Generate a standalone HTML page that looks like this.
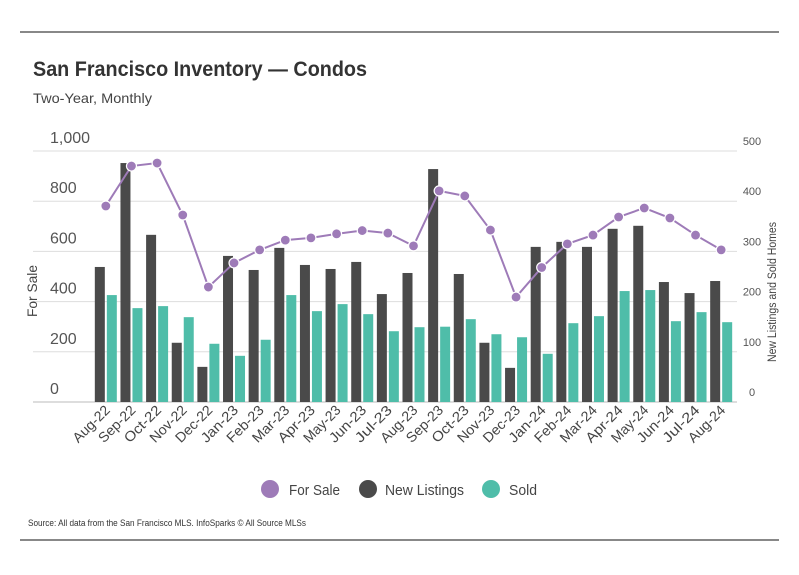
<!DOCTYPE html>
<html><head><meta charset="utf-8"><style>
body{margin:0;background:#fff;}
svg{display:block;font-family:"Liberation Sans",sans-serif;}
</style></head><body>
<svg id="c" width="799" height="575" viewBox="0 0 799 575">
<line x1="20" y1="32" x2="779" y2="32" stroke="#111" stroke-width="1"/>
<line x1="20" y1="540" x2="779" y2="540" stroke="#111" stroke-width="1"/>
<text x="33" y="76" font-size="21" font-weight="bold" fill="#333" textLength="334" lengthAdjust="spacingAndGlyphs">San Francisco Inventory — Condos</text>
<text x="33" y="103" font-size="14" fill="#444" textLength="119" lengthAdjust="spacingAndGlyphs">Two-Year, Monthly</text>
<g id="grid"></g>
<g id="bars"></g>
<g id="line"></g>
<g id="axes"></g>
<text transform="translate(37,291) rotate(-90)" font-size="14" fill="#444" text-anchor="middle" textLength="52" lengthAdjust="spacingAndGlyphs">For Sale</text>
<text transform="translate(776,292) rotate(-90)" font-size="11.5" fill="#444" text-anchor="middle" textLength="140" lengthAdjust="spacingAndGlyphs">New Listings and Sold Homes</text>
<g>
<g><circle cx="270" cy="489" r="9" fill="#9e7bb8"/><text x="289" y="495" font-size="15" fill="#444" textLength="51" lengthAdjust="spacingAndGlyphs">For Sale</text></g>
<g><circle cx="368" cy="489" r="9" fill="#4a4a4a"/><text x="385" y="495" font-size="15" fill="#444" textLength="79" lengthAdjust="spacingAndGlyphs">New Listings</text></g>
<g><circle cx="491" cy="489" r="9" fill="#4fbda9"/><text x="509" y="495" font-size="15" fill="#444" textLength="28" lengthAdjust="spacingAndGlyphs">Sold</text></g>
</g>
<text x="28" y="526" font-size="9" fill="#333" textLength="278" lengthAdjust="spacingAndGlyphs">Source:  All data from the San Francisco MLS. InfoSparks © All Source MLSs</text>
</svg>
<script>
const categories=["Aug-22","Sep-22","Oct-22","Nov-22","Dec-22","Jan-23","Feb-23","Mar-23","Apr-23","May-23","Jun-23","Jul-23","Aug-23","Sep-23","Oct-23","Nov-23","Dec-23","Jan-24","Feb-24","Mar-24","Apr-24","May-24","Jun-24","Jul-24","Aug-24"];
const newListings=[269,476,333,118,70,291,263,307,273,265,279,215,257,464,255,118,68,309,319,309,345,351,239,217,241];
const sold=[213,187,191,169,116,92,124,213,181,195,175,141,149,150,165,135,129,96,157,171,221,223,161,179,159];
const forSale=[781,940,952,745,458,554,606,645,654,670,683,673,622,841,821,685,418,536,630,665,737,773,733,665,606];
const leftTicks=[0,200,400,600,800,1000];
const leftTickLabels=["0","200","400","600","800","1,000"];
const rightTicks=[0,100,200,300,400,500];

const NS="http://www.w3.org/2000/svg";
const y0=402,y1=151,xStart=93,xEnd=734;
const yL=v=>y0-(v/1000)*(y0-y1);
const yR=v=>y0-(v/500)*(y0-y1);
const step=(xEnd-xStart)/categories.length;
const xC=i=>xStart+step*(i+0.5);
function mk(tag,attrs,parent){const e=document.createElementNS(NS,tag);for(const k in attrs)e.setAttribute(k,attrs[k]);parent.appendChild(e);return e;}
const grid=document.getElementById('grid'),bars=document.getElementById('bars'),line=document.getElementById('line'),axes=document.getElementById('axes');
leftTicks.forEach((t,i)=>{
  const g=mk('line',{x1:33,x2:737,y1:yL(t),y2:yL(t),stroke:i===0?'#bbb':'#ddd','stroke-width':1},grid);
  
  
  const tx=mk('text',{x:50,y:yL(t)-8,'font-size':16,fill:'#555'},axes);
  tx.textContent=leftTickLabels[i];
  
  
});
rightTicks.forEach(t=>{
  const tx=mk('text',{x:752,y:yR(t)-6,'font-size':11,fill:'#555',"text-anchor":"middle"},axes);
  tx.textContent=t;
  
  
});
categories.forEach((c,i)=>{
  const cx=xC(i);
  const b=mk('rect',{x:cx-11,y:yR(newListings[i]),width:10,height:y0-yR(newListings[i]),fill:'#4a4a4a'},bars);
  
  
  const s=mk('rect',{x:cx+1,y:yR(sold[i]),width:10,height:y0-yR(sold[i]),fill:'#4fbda9'},bars);
  
  
  const tx=mk('text',{transform:`translate(${cx+5},${411}) rotate(-45)`,'font-size':14,fill:'#444','text-anchor':'end',textLength:46,lengthAdjust:'spacingAndGlyphs'},axes);
  tx.textContent=c;
  
  
});
const pts=forSale.map((v,i)=>xC(i)+','+yL(v)).join(' ');
const pl=mk('polyline',{points:pts,fill:'none',stroke:'#9e7bb8','stroke-width':2},line);


forSale.forEach((v,i)=>{
  const p=mk('circle',{cx:xC(i),cy:yL(v),r:5,fill:'#9e7bb8',stroke:'#fff','stroke-width':1.2},line);
  
  
});
</script>
</body></html>
